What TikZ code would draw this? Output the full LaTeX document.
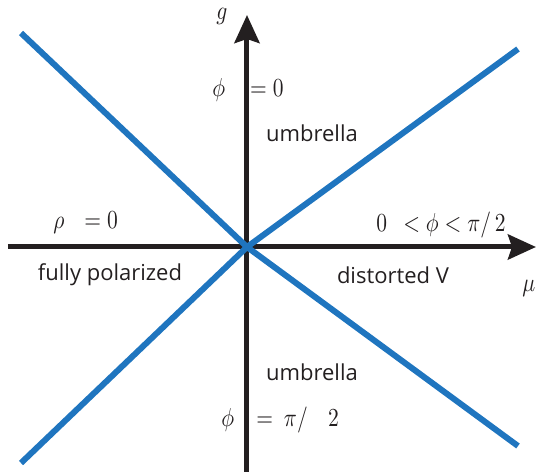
\documentclass[tikz,border=0pt]{standalone}
\usepackage{fontspec}
\newfontfamily\regionfont{Open Sans}
\usetikzlibrary{arrows.meta}
\definecolor{faxis}{HTML}{231F20}
\definecolor{fphase}{HTML}{1F75BF}
\tikzset{
  axisline/.style  = {line width=5pt, faxis,
                      -{Stealth[length=28pt,width=25pt,inset=4pt]}},
  phaseline/.style = {line width=6pt, fphase},
  region/.style    = {faxis, inner sep=0pt,
                      font=\regionfont\fontsize{22}{26}\selectfont},
  mlabel/.style    = {faxis, inner sep=0pt, anchor=base west,
                      xscale=2.15, yscale=2.6, transform shape},
}

\begin{document}
\begin{tikzpicture}[x=1pt,y=1pt]
\useasboundingbox (-247,-229) rectangle (294,247);
\coordinate (O) at (0,0);
\coordinate (xs) at (-239,0);
\coordinate (xe) at (289,0);
\coordinate (ys) at (0,-225);
\coordinate (ye) at (0,232);
\coordinate (tl) at (-226,214);
\coordinate (tr) at (271,198);
\coordinate (bl) at (-226,-216);
\coordinate (br) at (271,-199);
% axes
\draw[axisline] (xs) -- (xe);
\draw[axisline] (ys) -- (ye);
% phase boundaries
\draw[phaseline] (tl) -- (O) -- (br);
\draw[phaseline] (bl) -- (O) -- (tr);
% labels
\node[mlabel] (glab) at (-31,227) {$g$};
\node[mlabel] (mulab) at (275,-45) {$\mu$};
\node[mlabel] (phizero) at (-35,150) {$\phi\hspace{8.8pt}=0$};
\node[mlabel] (rhozero) at (-194,18) {$\rho\hspace{6.5pt}=0$};
\node[mlabel] (phimid) at (129,15) {$0\hspace{4.7pt}<\phi<\pi/\,2$};
\node[mlabel] (phihalf) at (-26,-180) {$\phi\hspace{7.5pt}=\hspace{2.3pt}\pi/\hspace{9.5pt}2$};
\node[region] (umbup) at (65,114) {umbrella};
\node[region] (umbdown) at (65,-125) {umbrella};
\node[region] (fullpol) at (-137,-28) {fully polarized};
\node[region] (distv) at (146,-28) {distorted V};
\end{tikzpicture}
\end{document}
